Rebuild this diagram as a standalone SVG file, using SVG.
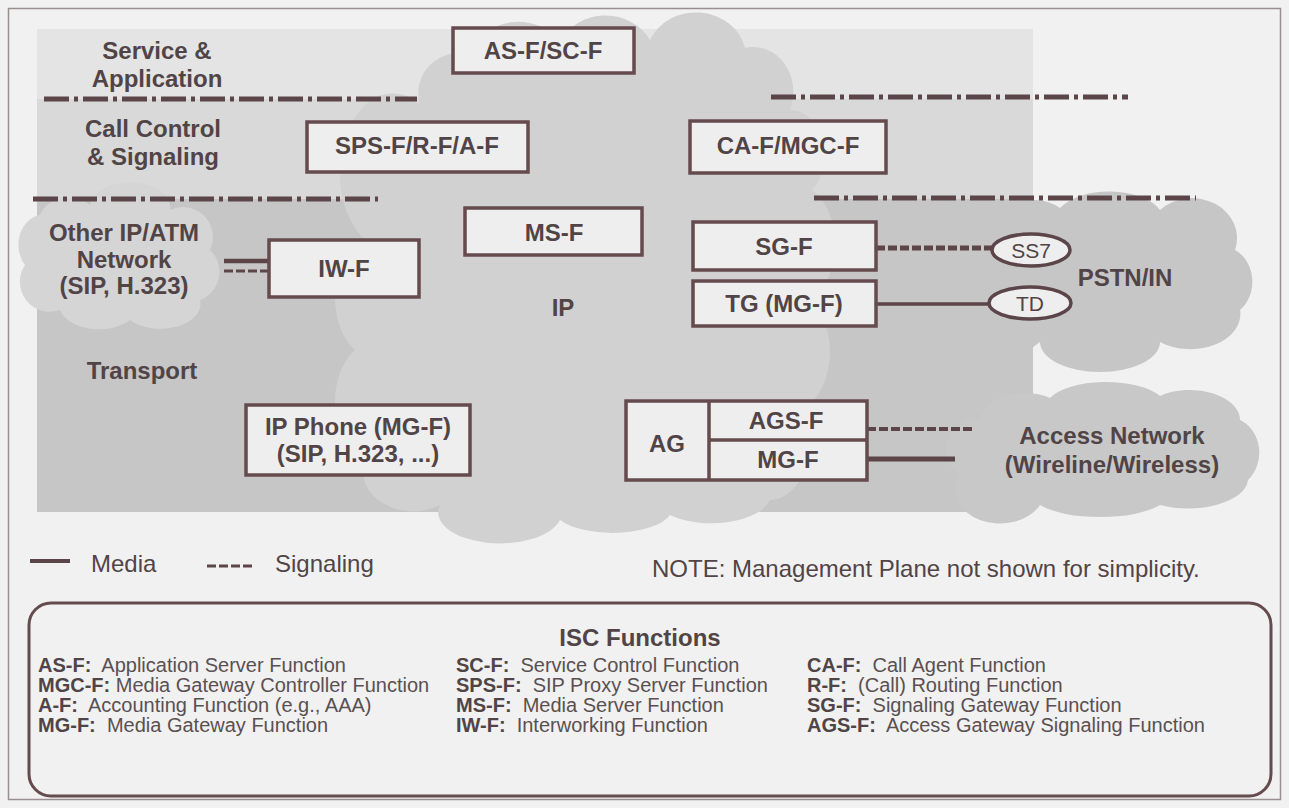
<svg xmlns="http://www.w3.org/2000/svg" width="1289" height="808" viewBox="0 0 1289 808">
  <style>
    .lbl{font-family:"Liberation Sans",Arial,sans-serif;font-weight:bold;font-size:24px;fill:#514446;text-anchor:middle}
    .txt{font-family:"Liberation Sans",Arial,sans-serif;font-size:24px;fill:#514446}
    .oval{font-family:"Liberation Sans",Arial,sans-serif;font-size:21px;fill:#514446;text-anchor:middle}
    .box{fill:#efeeee;stroke:#654b4e;stroke-width:3.5}
    .layer{fill:none;stroke:#5b4548;stroke-width:5;stroke-dasharray:25 5 4 5}
    .media{fill:none;stroke:#5b4548}
    .sig{fill:none;stroke:#5b4548;stroke-dasharray:9 3}
    .isc{font-family:"Liberation Sans",Arial,sans-serif;font-size:20px;fill:#5a5052}
    .k{font-weight:bold;fill:#4f4446}
  </style>

  <!-- page and frame -->
  <rect x="0" y="0" width="1289" height="808" fill="#f1f1f1"/>
  <rect x="8.5" y="8.5" width="1272" height="791" fill="none" stroke="#9a8f90" stroke-width="1.5"/>

  <!-- plane bands -->
  <g id="planes">
    <rect x="37" y="29" width="996" height="483" fill="#c6c6c6"/>
    <rect x="37" y="29" width="996" height="70" fill="#e4e4e4"/>
    <rect x="37" y="99" width="996" height="100" fill="#d9d9d9"/>
  </g>

  <!-- network clouds -->
  <g id="cloud-ip">
    <path fill="#d1d1d1" d="M 420 105 A 40 40 0 0 1 470 55 A 50 45 0 0 1 560 42 A 50 45 0 0 1 650 40 A 50 45 0 0 1 745 48 A 40 45 0 0 1 790 110 A 35 45 0 0 1 812 190 A 40 60 0 0 1 810 300 A 40 60 0 0 1 800 410 A 40 55 0 0 1 770 500 A 60 30 0 0 1 670 515 A 60 25 0 0 1 560 520 A 60 30 0 0 1 440 505 A 50 40 0 0 1 365 460 A 40 60 0 0 1 355 350 A 40 60 0 0 1 365 240 A 40 60 0 0 1 420 105 Z"/>
    <text class="lbl" x="563" y="316">IP</text>
  </g>
  <g id="cloud-other">
    <path fill="#d5d5d5" d="M 40 215 A 30 25 0 0 1 90 205 A 40 25 0 0 1 170 210 A 30 30 0 0 1 210 250 A 30 30 0 0 1 200 300 A 40 25 0 0 1 130 320 A 40 25 0 0 1 60 310 A 30 30 0 0 1 25 265 A 25 30 0 0 1 40 215 Z"/>
    <text class="lbl" x="124" y="241">Other IP/ATM</text>
    <text class="lbl" x="124" y="268">Network</text>
    <text class="lbl" x="124" y="294">(SIP, H.323)</text>
  </g>
  <g id="cloud-pstn">
    <path fill="#c6c6c6" d="M 995 240 A 40 35 0 0 1 1060 208 A 55 30 0 0 1 1160 210 A 45 40 0 0 1 1235 250 A 30 35 0 0 1 1240 310 A 50 35 0 0 1 1160 342 A 60 30 0 0 1 1040 342 A 40 30 0 0 1 972 300 A 30 30 0 0 1 995 240 Z"/>
    <text class="lbl" x="1125" y="286">PSTN/IN</text>
  </g>
  <g id="cloud-access">
    <path fill="#c8c8c8" d="M 980 420 A 45 30 0 0 1 1050 398 A 60 25 0 0 1 1160 396 A 50 30 0 0 1 1240 420 A 30 35 0 0 1 1248 480 A 60 30 0 0 1 1160 505 A 70 25 0 0 1 1040 505 A 40 30 0 0 1 960 475 A 30 30 0 0 1 980 420 Z"/>
    <text class="lbl" x="1112" y="444">Access Network</text>
    <text class="lbl" x="1112" y="473">(Wireline/Wireless)</text>
  </g>

  <!-- plane separators -->
  <g id="separators">
    <line class="layer" x1="44" y1="99" x2="417" y2="99"/>
    <line class="layer" x1="771" y1="97" x2="1128" y2="97"/>
    <line class="layer" x1="33" y1="199" x2="378" y2="199"/>
    <line class="layer" x1="814" y1="198" x2="1196" y2="198"/>
  </g>

  <!-- plane labels -->
  <g id="plane-labels">
    <text class="lbl" x="157" y="59">Service &amp;</text>
    <text class="lbl" x="157" y="87">Application</text>
    <text class="lbl" x="153" y="137">Call Control</text>
    <text class="lbl" x="153" y="165">&amp; Signaling</text>
    <text class="lbl" x="142" y="379">Transport</text>
  </g>

  <!-- connectors -->
  <g id="connectors">
    <line class="media" x1="224" y1="261" x2="269" y2="261" stroke-width="4.5"/>
    <line class="sig" x1="224" y1="271" x2="269" y2="271" stroke-width="3"/>
    <line class="sig" x1="876" y1="248" x2="993" y2="248" stroke-width="5"/>
    <line class="media" x1="876" y1="304" x2="989" y2="304" stroke-width="3.5"/>
    <line class="sig" x1="867" y1="429" x2="973" y2="429" stroke-width="4"/>
    <line class="media" x1="867" y1="459" x2="955" y2="459" stroke-width="5"/>
  </g>

  <!-- function nodes -->
  <g id="as-sc">
    <rect class="box" x="453" y="28" width="181" height="45"/>
    <text class="lbl" x="543" y="59">AS-F/SC-F</text>
  </g>
  <g id="sps">
    <rect class="box" x="307" y="122" width="221" height="50"/>
    <text class="lbl" x="417" y="154">SPS-F/R-F/A-F</text>
  </g>
  <g id="ca-mgc">
    <rect class="box" x="690" y="121" width="196" height="52"/>
    <text class="lbl" x="788" y="154">CA-F/MGC-F</text>
  </g>
  <g id="ms">
    <rect class="box" x="465" y="208" width="177" height="47"/>
    <text class="lbl" x="554" y="241">MS-F</text>
  </g>
  <g id="iw">
    <rect class="box" x="269" y="240" width="150" height="57"/>
    <text class="lbl" x="344" y="277">IW-F</text>
  </g>
  <g id="sg">
    <rect class="box" x="693" y="222" width="183" height="48"/>
    <text class="lbl" x="784" y="255">SG-F</text>
  </g>
  <g id="tg">
    <rect class="box" x="693" y="281" width="183" height="45"/>
    <text class="lbl" x="784" y="312">TG (MG-F)</text>
  </g>
  <g id="ss7">
    <ellipse cx="1031" cy="250" rx="39" ry="16" fill="#eeeeee" stroke="#5b4548" stroke-width="3.5"/>
    <text class="oval" x="1031" y="258">SS7</text>
  </g>
  <g id="td">
    <ellipse cx="1030" cy="303" rx="41" ry="16" fill="#eeeeee" stroke="#5b4548" stroke-width="3.5"/>
    <text class="oval" x="1030" y="311">TD</text>
  </g>
  <g id="ip-phone">
    <rect class="box" x="246" y="405" width="224" height="70"/>
    <text class="lbl" x="358" y="435">IP Phone (MG-F)</text>
    <text class="lbl" x="358" y="462">(SIP, H.323, ...)</text>
  </g>
  <g id="ag">
    <rect class="box" x="626" y="401" width="241" height="79"/>
    <line x1="709" y1="401" x2="709" y2="480" stroke="#654b4e" stroke-width="3.5"/>
    <line x1="709" y1="440" x2="867" y2="440" stroke="#654b4e" stroke-width="3.5"/>
    <text class="lbl" x="667" y="452">AG</text>
    <text class="lbl" x="786" y="429">AGS-F</text>
    <text class="lbl" x="788" y="468">MG-F</text>
  </g>

  <!-- legend and note -->
  <g id="legend">
    <line class="media" x1="30" y1="561" x2="70" y2="561" stroke-width="4"/>
    <text class="txt" x="91" y="572">Media</text>
    <line class="sig" x1="207" y1="566" x2="254" y2="566" stroke-width="3"/>
    <text class="txt" x="275" y="572">Signaling</text>
    <text class="txt" x="652" y="577">NOTE: Management Plane not shown for simplicity.</text>
  </g>

  <!-- function glossary -->
  <g id="isc-functions">
    <rect x="29" y="603" width="1242" height="193" rx="22" ry="22" fill="none" stroke="#654b4e" stroke-width="3"/>
    <text class="lbl" x="640" y="646">ISC Functions</text>
    <text class="isc" x="38" y="672"><tspan class="k">AS-F:</tspan>&#160; Application Server Function</text>
    <text class="isc" x="38" y="692"><tspan class="k">MGC-F:</tspan> Media Gateway Controller Function</text>
    <text class="isc" x="38" y="712"><tspan class="k">A-F:</tspan>&#160; Accounting Function (e.g., AAA)</text>
    <text class="isc" x="38" y="732"><tspan class="k">MG-F:</tspan>&#160; Media Gateway Function</text>
    <text class="isc" x="456" y="672"><tspan class="k">SC-F:</tspan>&#160; Service Control Function</text>
    <text class="isc" x="456" y="692"><tspan class="k">SPS-F:</tspan>&#160; SIP Proxy Server Function</text>
    <text class="isc" x="456" y="712"><tspan class="k">MS-F:</tspan>&#160; Media Server Function</text>
    <text class="isc" x="456" y="732"><tspan class="k">IW-F:</tspan>&#160; Interworking Function</text>
    <text class="isc" x="807" y="672"><tspan class="k">CA-F:</tspan>&#160; Call Agent Function</text>
    <text class="isc" x="807" y="692"><tspan class="k">R-F:</tspan>&#160; (Call) Routing Function</text>
    <text class="isc" x="807" y="712"><tspan class="k">SG-F:</tspan>&#160; Signaling Gateway Function</text>
    <text class="isc" x="807" y="732"><tspan class="k">AGS-F:</tspan>&#160; Access Gateway Signaling Function</text>
  </g>
</svg>
